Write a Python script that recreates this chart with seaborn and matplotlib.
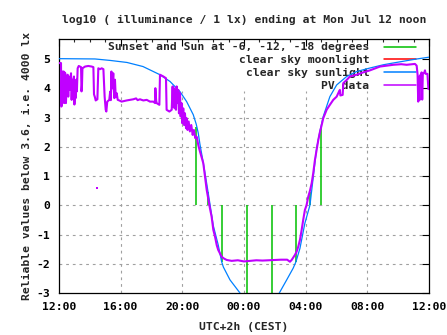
import matplotlib
matplotlib.use("Agg")
import matplotlib.pyplot as plt
from matplotlib.lines import Line2D
import seaborn as sns
import numpy as np

# ---------------- data (hours after Sun 12:00 CEST) ----------------
x_tick_hours = [0, 4, 8, 12, 16, 20, 24]
x_tick_labels = ["12:00", "16:00", "20:00", "00:00", "04:00", "08:00", "12:00"]
y_ticks = [-3, -2, -1, 0, 1, 2, 3, 4, 5]

# Sunset and Sun at -6, -12, -18 degrees (impulses from 0)
sun_event_hours = [8.88, 9.64, 10.60, 12.22, 13.83, 15.37, 16.28, 16.99]
sun_event_values = [2.68, 0.45, -1.93, -3.5, -3.5, -1.93, 0.45, 2.68]

# clear sky moonlight (moon below horizon: nothing drawn)
moon_hours = []
moon_values = []

# clear sky sunlight
sun_hours = [0.0, 2.33, 3.31, 4.41, 5.45, 6.55, 7.20, 7.85, 8.28, 8.71, 8.90, 9.03,
             9.14, 9.36, 9.58, 9.79, 10.01, 10.33, 10.55, 10.66, 11.09, 11.74, 12.2,
             13.8, 14.29, 14.77, 15.19, 15.37, 15.63, 15.95, 16.28, 16.5, 16.71,
             16.93, 17.14, 17.57, 18.01, 18.66, 19.31, 20.17, 21.03, 21.66, 23.09, 24.0]
sun_values = [5.02, 5.01, 4.96, 4.89, 4.75, 4.47, 4.24, 3.89, 3.55, 3.10, 2.78, 2.48,
              2.10, 1.45, 0.75, 0.05, -0.70, -1.36, -1.93, -2.11, -2.55, -3.0, -3.4,
              -3.4, -3.0, -2.55, -2.15, -1.93, -1.47, -0.61, 0.01, 1.0, 1.95,
              2.55, 3.04, 3.72, 4.12, 4.41, 4.58, 4.70, 4.81, 4.87, 5.00, 5.07]

# PV data
pv_hours = [0.00, 0.13, 0.15, 0.17, 0.20, 0.24, 0.30, 0.33, 0.36, 0.41, 0.45, 0.50,
            0.56, 0.60, 0.64, 0.69, 0.74, 0.78, 0.82, 0.86, 0.90, 0.93, 0.97, 1.00,
            1.04, 1.08, 1.12, 1.16, 1.21, 1.28, 1.36, 1.43, 1.46, 1.49, 1.52, 1.69,
            1.90, 2.12, 2.23, 2.27, 2.33, 2.38, 2.49, 2.55, 2.66, 2.77, 2.88, 2.92,
            2.96, 3.03, 3.07, 3.10, 3.13, 3.26, 3.32, 3.36, 3.40, 3.44, 3.48, 3.52,
            3.56, 3.59, 3.63, 3.68, 3.74, 3.81, 3.91, 4.06, 4.39, 4.60, 4.82, 5.00,
            5.10, 5.25, 5.47, 5.69, 5.90, 6.12, 6.23, 6.25, 6.30, 6.33, 6.51, 6.55,
            6.77, 6.94, 6.98, 7.16, 7.31, 7.37, 7.41, 7.46, 7.50, 7.54, 7.59, 7.63,
            7.67, 7.74, 7.78, 7.85, 7.89, 7.95, 8.00, 8.06, 8.11, 8.17, 8.24, 8.28,
            8.34, 8.41, 8.49, 8.58, 8.67, 8.75, 8.84, 8.93, 9.04, 9.14, 9.25, 9.36,
            9.47, 9.58, 9.79, 9.90, 10.01, 10.12, 10.23, 10.33, 10.55, 10.70, 10.88,
            11.20, 11.60, 12.00, 12.40, 12.80, 13.20, 13.60, 14.00, 14.40, 14.80,
            14.98, 15.09, 15.20, 15.30, 15.41, 15.52, 15.63, 15.74, 15.84, 15.95,
            16.06, 16.17, 16.28, 16.39, 16.49, 16.60, 16.71, 16.82, 16.93, 17.04,
            17.14, 17.36, 17.57, 17.79, 18.01, 18.15, 18.22, 18.25, 18.40, 18.44,
            18.66, 18.87, 19.31, 19.73, 20.17, 20.82, 21.68, 22.20, 22.55, 23.09,
            23.20, 23.26, 23.30, 23.33, 23.38, 23.42, 23.47, 23.52, 23.56, 23.60,
            23.70, 23.74, 23.78, 23.90, 23.96, 24.00]
pv_values = [4.87, 4.87, 3.38, 3.40, 4.52, 4.58, 4.58, 3.50, 4.55, 4.52, 3.50, 4.18,
             4.47, 3.72, 4.41, 3.95, 4.30, 4.52, 3.61, 4.30, 3.80, 4.20, 4.41, 3.45,
             4.07, 3.67, 4.30, 3.90, 4.69, 4.77, 4.75, 4.73, 3.90, 4.10, 4.69, 4.75,
             4.77, 4.75, 4.73, 3.80, 3.70, 3.59, 3.63, 4.69, 4.66, 4.69, 4.66, 4.20,
             3.72, 3.27, 3.21, 3.40, 3.55, 3.61, 3.89, 3.60, 4.58, 4.00, 4.18, 4.52,
             3.90, 3.67, 4.30, 3.70, 3.84, 3.61, 3.59, 3.55, 3.59, 3.61, 3.63, 3.66,
             3.60, 3.63, 3.59, 3.61, 3.55, 3.55, 3.50, 4.01, 3.60, 3.50, 3.44, 4.47,
             4.41, 4.35, 3.27, 3.21, 3.27, 4.07, 3.38, 4.01, 3.32, 3.95, 3.27, 4.07,
             3.50, 3.95, 3.15, 3.84, 3.04, 3.50, 2.81, 3.32, 2.75, 3.15, 2.64, 2.98,
             2.58, 2.87, 2.53, 2.75, 2.41, 2.58, 2.30, 2.35, 2.05, 1.85, 1.65, 1.44,
             0.98, 0.53, -0.10, -0.39, -0.84, -1.07, -1.36, -1.53, -1.76, -1.82, -1.87,
             -1.90, -1.88, -1.92, -1.90, -1.88, -1.89, -1.88, -1.87, -1.86, -1.86,
             -1.93, -1.87, -1.78, -1.70, -1.59, -1.41, -1.18, -0.84, -0.50, -0.16,
             0.01, 0.30, 0.50, 0.76, 1.10, 1.55, 1.90, 2.24, 2.52, 2.75,
             2.98, 3.27, 3.44, 3.61, 3.72, 3.88, 3.95, 3.76, 3.78, 4.18,
             4.29, 4.41, 4.47, 4.55, 4.62, 4.75, 4.81, 4.83, 4.81, 4.84,
             4.78, 4.47, 3.55, 4.40, 3.60, 4.45, 4.30, 4.55, 3.62, 4.50,
             4.55, 4.62, 4.50, 4.50, 3.98, 3.98]
pv_outlier_hours = [2.48]
pv_outlier_values = [0.59]

# ---------------- style ----------------
sns.set_style("white")
plt.rcParams["font.family"] = ["DejaVu Sans Mono"]
plt.rcParams["font.weight"] = "bold"
FS = 8.2

GREEN = "#00c000"
RED = "#ff0000"
BLUE = "#0080ff"
PURPLE = "#c000ff"

fig = plt.figure(figsize=(4.47, 3.35), dpi=100)
ax = fig.add_axes([59 / 447, 42 / 335, 370 / 447, 254.5 / 335])
ax.set_xlim(0, 24)
ax.set_ylim(-3, 5.71)

# grid (hidden in the key area)
grid_kw = dict(color="#a0a0a0", lw=0.8, dashes=(2.5, 3.5), zorder=0.5)
ytop_frac = (3.9 + 3) / (5.71 + 3)
for h in x_tick_hours[1:-1]:
    ax.axvline(h, ymin=0, ymax=ytop_frac, **grid_kw)
for v in y_ticks[1:-1]:
    if v == 4:
        ax.axhline(v, xmin=0, xmax=1.1 / 24, **grid_kw)
    else:
        ax.axhline(v, **grid_kw)

# sun events (impulses)
ax.vlines(sun_event_hours, 0, sun_event_values, color=GREEN, lw=1.1, zorder=2)
# moonlight
ax.plot(moon_hours, moon_values, color=RED, lw=1.1, zorder=2.5)
# clear sky sunlight
sns.lineplot(x=sun_hours, y=sun_values, ax=ax, color=BLUE, lw=0.9,
             sort=False, estimator=None, zorder=3)
# PV data
sns.lineplot(x=pv_hours, y=pv_values, ax=ax, color=PURPLE, lw=1.5,
             sort=False, estimator=None, zorder=4)
ax.scatter(pv_outlier_hours, pv_outlier_values, s=1.5, marker="s",
           color=PURPLE, linewidths=0, zorder=4)

# axes cosmetics
for sp in ax.spines.values():
    sp.set_color("black")
    sp.set_linewidth(0.9)
ax.set_xticks(x_tick_hours)
ax.set_xticklabels(x_tick_labels)
ax.set_xticks(np.arange(0, 25, 1), minor=True)
ax.set_yticks(y_ticks)
ax.set_yticklabels([str(v) for v in y_ticks])
ax.tick_params(which="major", direction="in", length=5, width=0.8,
               top=True, right=True, labelsize=FS, pad=6.5, colors="black")
ax.tick_params(which="minor", direction="in", length=2.5, width=0.8,
               top=True, right=True)
for lab in ax.get_xticklabels() + ax.get_yticklabels():
    lab.set_fontweight("bold")

ax.set_title("log10 ( illuminance / 1 lx) ending at Mon Jul 12 noon",
             fontsize=FS, fontweight="bold", pad=11)
ax.set_xlabel("UTC+2h (CEST)", fontsize=FS, fontweight="bold", labelpad=7)
ax.set_ylabel("Reliable values below 3.6, i.e. 4000 lx", fontsize=FS,
              fontweight="bold")
ax.yaxis.set_label_coords(-0.073, 0.5)

handles = [Line2D([], [], color=GREEN, lw=1.1),
           Line2D([], [], color=RED, lw=1.1),
           Line2D([], [], color=BLUE, lw=1.1),
           Line2D([], [], color=PURPLE, lw=1.1)]
labels = ["Sunset and Sun at -6, -12, -18 degrees", "clear sky moonlight",
          "clear sky sunlight", "PV data"]
leg = ax.legend(handles, labels, loc="upper right",
                bbox_to_anchor=((416 - 59) / 370, (293 - 42.5) / 254.5),
                frameon=False, markerfirst=False, handlelength=2.8,
                handletextpad=1.3, labelspacing=0.24, borderpad=0,
                borderaxespad=0, prop={"family": "DejaVu Sans Mono",
                                       "weight": "bold", "size": FS})
leg.set_zorder(1.5)

fig.savefig("out.png", dpi=100, facecolor="white")
